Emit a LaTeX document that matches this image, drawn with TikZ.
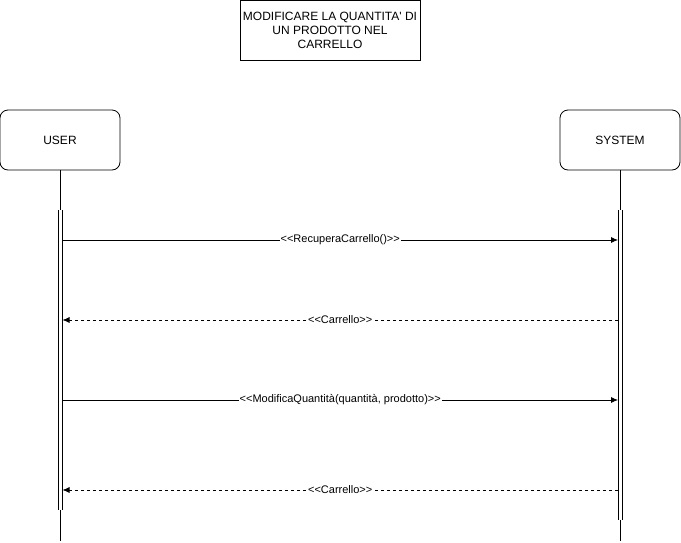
\documentclass[tikz,border=0pt]{standalone}
\usepackage{fontspec}
\setmainfont{Liberation Sans}[Ligatures=TeXOff]
\usetikzlibrary{arrows.meta}
\begin{document}
\begin{tikzpicture}[x=1pt,y=-1pt,
  every node/.style={inner sep=0pt},
  actor/.style={draw, rounded corners=8pt, minimum width=120pt, minimum height=60pt, font=\fontsize{12}{14}\selectfont, line width=0.8pt},
  titlebox/.style={draw, minimum width=180pt, minimum height=60pt, align=center, font=\fontsize{12}{14}\selectfont, line width=0.8pt},
  life/.style={line width=0.8pt},
  msg/.style={line width=0.8pt, -{Latex[length=7pt,width=6pt]}},
  ret/.style={msg, dash pattern=on 3pt off 3pt},
  lbl/.style={fill=white, inner sep=1pt, font=\fontsize{11}{13}\selectfont}
]
\useasboundingbox (0,0) rectangle (681,542);
\node[titlebox] (title) at (330,30) {MODIFICARE LA QUANTITA' DI\\UN PRODOTTO NEL\\CARRELLO};
\node[actor] (user) at (60,140) {USER};
\node[actor] (sys) at (620,140) {SYSTEM};
\coordinate (uend) at (60,541);
\coordinate (send) at (620,541);
\draw[life] (user.south) -- (uend);
\draw[life] (sys.south) -- (send);
% activation bars
\fill[white] (58,210) rectangle (62.5,510);
\draw[life] (58,210) -- (58,510) (62.5,210) -- (62.5,510);
\fill[white] (618,210) rectangle (622.5,520);
\draw[life] (618,210) -- (618,520) (622.5,210) -- (622.5,520);
\coordinate (u1) at (62.5,240); \coordinate (s1) at (618,240);
\coordinate (u2) at (62.5,320); \coordinate (s2) at (618,320);
\coordinate (u3) at (62.5,400); \coordinate (s3) at (618,400);
\coordinate (u4) at (62.5,490); \coordinate (s4) at (618,490);
\draw[msg] (u1) -- node[lbl] {<<RecuperaCarrello()>>} (s1);
\draw[ret] (s2) -- node[lbl] {<<Carrello>>} (u2);
\draw[msg] (u3) -- node[lbl] {<<ModificaQuantità(quantità, prodotto)>>} (s3);
\draw[ret] (s4) -- node[lbl] {<<Carrello>>} (u4);
\end{tikzpicture}
\end{document}
